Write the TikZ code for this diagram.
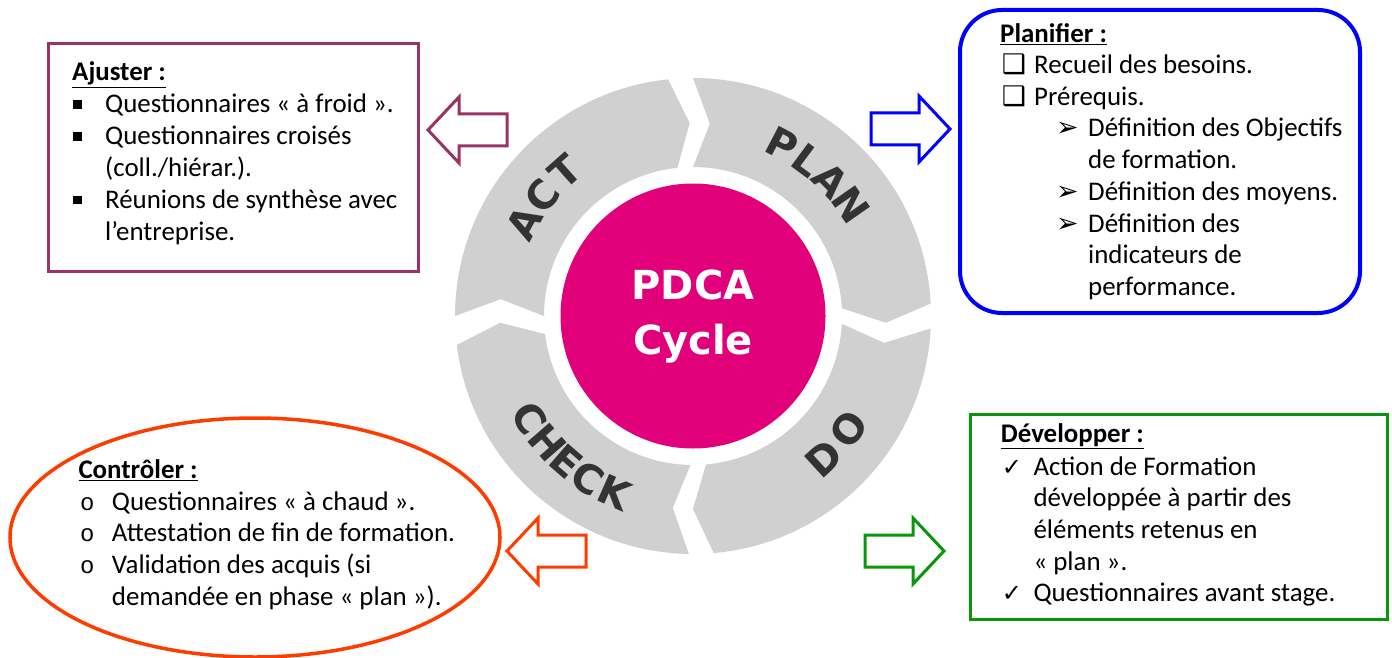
\documentclass[tikz,border=0pt]{standalone}
\usepackage{fontspec}
\setmainfont{Carlito}
\newfontfamily\dejavu{DejaVu Sans}
\newfontfamily\monof{Liberation Mono}
\usetikzlibrary{shapes.geometric}
\definecolor{ringgray}{RGB}{208,208,208}
\definecolor{pdcapink}{RGB}{226,0,122}
\definecolor{lettergray}{RGB}{51,51,51}
\definecolor{purp}{RGB}{153,51,102}
\definecolor{bluec}{RGB}{0,0,255}
\definecolor{redc}{RGB}{255,60,0}
\definecolor{greenc}{RGB}{10,150,10}
\newcommand\sqb{\makebox[32pt][l]{\raisebox{4pt}{\rule{8.5pt}{8.5pt}}}}
\newcommand\chkbox{\makebox[32.3pt][l]{\dejavu\fontsize{27}{27}\selectfont ❑}}
\newcommand\arrb{\makebox[32pt][l]{\dejavu\fontsize{27}{27}\selectfont ➢}}
\newcommand\obul{\makebox[31.7pt][l]{\monof\fontsize{24}{24}\selectfont o}}
\newcommand\ckb{\makebox[31.6pt][l]{\dejavu\fontsize{24}{24}\selectfont ✓}}
\newcommand\ttl[1]{\textbf{\underline{#1}}}
\newcommand\ringseg[2]{%
  \fill[ringgray] (#1:238) arc[start angle=#1,end angle=#2,radius=238]
    -- ({#2-5}:193) -- (#2:149) arc[start angle=#2,end angle=#1,radius=149]
    -- ({#1-5}:193) -- cycle;}
\newcommand\larrow[3]{% color, tip x, tip y
  \coordinate (#1tip) at (#2,-#3);
  \draw[#1, arrowline] (#1tip) -- ++(31,33) -- ++(0,-17) -- ++(48,0) -- ++(0,-32)
    -- ++(-48,0) -- ++(0,-17) -- cycle;}
\newcommand\rarrow[3]{% color, tip x, tip y
  \coordinate (#1tip) at (#2,-#3);
  \draw[#1, arrowline] (#1tip) -- ++(-31,33) -- ++(0,-17) -- ++(-48,0) -- ++(0,-32)
    -- ++(48,0) -- ++(0,-17) -- cycle;}
\begin{document}
\begin{tikzpicture}[x=1pt,y=1pt,
  txt/.style={anchor=base west, inner sep=0pt, font=\fontsize{26.9}{31.7}\selectfont},
  ringlet/.style={inner sep=0pt, text=lettergray, font=\dejavu\bfseries\fontsize{40}{40}\selectfont},
  arrowline/.style={line width=3pt, line join=miter, fill=white},
  boxline/.style={inner sep=0pt, line width=3pt}]
\useasboundingbox (0,-658) rectangle (1392,0);
\fill[white] (0,-658) rectangle (1392,0);

\coordinate (C) at (693,-316);
\begin{scope}[shift={(C)}]
  \ringseg{90}{3}
  \ringseg{-3}{-85}
  \ringseg{-91}{-173}
  \ringseg{180}{96}
  % PLAN
  \node[ringlet, rotate=-27.5] (lP) at (62.5:193) {P};
  \node[ringlet, rotate=-36.5] (lL) at (53.5:193) {L};
  \node[ringlet, rotate=-45.5] (lA) at (44.5:193) {A};
  \node[ringlet, rotate=-55]   (lN) at (35:193)   {N};
  % DO
  \node[ringlet, rotate=42.5]  (dD) at (-47.5:193) {D};
  \node[ringlet, rotate=54]    (dO) at (-36:193)   {O};
  % CHECK
  \node[ringlet, rotate=-58]   (cC) at (-148:193) {C};
  \node[ringlet, rotate=-49]   (cH) at (-139:193) {H};
  \node[ringlet, rotate=-41]   (cE) at (-131:193) {E};
  \node[ringlet, rotate=-33]   (cC2) at (-123:193) {C};
  \node[ringlet, rotate=-24]   (cK) at (-114:193) {K};
  % ACT
  \node[ringlet, rotate=61]    (aA) at (151:193) {A};
  \node[ringlet, rotate=51.5]  (aC) at (141.5:193) {C};
  \node[ringlet, rotate=41.5]  (aT) at (131.5:193) {T};
\end{scope}

\node[circle, fill=pdcapink, minimum size=265pt, inner sep=0pt, text=white, align=center,
  font=\dejavu\bfseries\fontsize{40}{55}\selectfont] (pdca) at (C) {PDCA\\Cycle};

% Ajuster
\node[boxline, draw=purp, minimum width=370pt, minimum height=227pt] (ajbox) at (233,-157.5) {};
\node[txt] (aj0) at (72,-81) {\ttl{Ajuster :}};
\node[txt] (aj1) at (73,-112.8) {\sqb Questionnaires « à froid ».};
\node[txt] (aj2) at (73,-144.6) {\sqb Questionnaires croisés};
\node[txt] (aj3) at (105,-176.4) {(coll./hiérar.).};
\node[txt] (aj4) at (73,-208.2) {\sqb Réunions de synthèse avec};
\node[txt] (aj5) at (105,-240) {l’entreprise.};

% Planifier
\node[boxline, draw=bluec, line width=4pt, rounded corners=42pt, minimum width=400pt, minimum height=303pt] (plbox) at (1160,-161.5) {};
\node[txt] (pl0) at (1000,-42.3) {\ttl{Planifier :}};
\node[txt] (pl1) at (1001.7,-73.7) {\chkbox Recueil des besoins.};
\node[txt] (pl2) at (1001.7,-105.4) {\chkbox Prérequis.};
\node[txt] (pl3) at (1056,-137) {\arrb Définition des Objectifs};
\node[txt] (pl4) at (1088,-168.7) {de formation.};
\node[txt] (pl5) at (1056,-200.4) {\arrb Définition des moyens.};
\node[txt] (pl6) at (1056,-232) {\arrb Définition des};
\node[txt] (pl7) at (1088,-263.7) {indicateurs de};
\node[txt] (pl8) at (1088,-295.4) {performance.};

% Controler
\node[boxline, ellipse, draw=redc, line width=3.5pt, minimum width=490pt, minimum height=239pt] (ctbox) at (255,-537.5) {};
\node[txt] (ct0) at (78.3,-478.3) {\ttl{Contrôler :}};
\node[txt] (ct1) at (80,-510) {\obul Questionnaires « à chaud ».};
\node[txt] (ct2) at (80,-541.7) {\obul Attestation de fin de formation.};
\node[txt] (ct3) at (80,-573.3) {\obul Validation des acquis (si};
\node[txt] (ct4) at (111.7,-605) {demandée en phase « plan »).};

% Developper
\node[boxline, draw=greenc, minimum width=417pt, minimum height=205pt] (dvbox) at (1178.5,-516.5) {};
\node[txt] (dv0) at (1000.7,-442.3) {\ttl{Développer :}};
\node[txt] (dv1) at (1001.7,-475) {\ckb Action de Formation};
\node[txt] (dv2) at (1033.3,-506.7) {développée à partir des};
\node[txt] (dv3) at (1033.3,-538.3) {éléments retenus en};
\node[txt] (dv4) at (1033.3,-570) {« plan ».};
\node[txt] (dv5) at (1001.7,-601.7) {\ckb Questionnaires avant stage.};

% block arrows
\larrow{purp}{428}{130}
\rarrow{bluec}{950}{129}
\larrow{redc}{507}{551}
\rarrow{greenc}{944}{551}
\end{tikzpicture}
\end{document}
